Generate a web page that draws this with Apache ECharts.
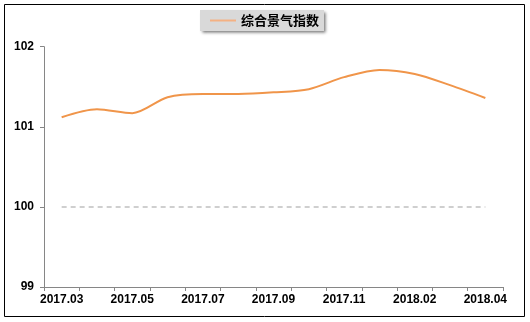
<!DOCTYPE html>
<html><head><meta charset="utf-8">
<script src="https://cdn.jsdelivr.net/npm/echarts@6/dist/echarts.min.js"></script>
<style>html,body{margin:0;padding:0;background:#fff}#c{width:530px;height:322px}</style>
</head><body><div id="c"></div>
<script>
const categories = ['2017.03','2017.04','2017.05','2017.06','2017.07','2017.08','2017.09','2017.10','2017.11','2017.12','2018.02','2018.03','2018.04'];
const indexValues = [101.12,101.22,101.17,101.37,101.41,101.41,101.43,101.47,101.62,101.71,101.66,101.52,101.36];
const baseline = [100,100,100,100,100,100,100,100,100,100,100,100,100];
const yTicks = [99,100,101,102];
const seriesName = '综合景气指数';

const chart = echarts.init(document.getElementById('c'));
chart.setOption({
  animation:false,
  backgroundColor:'#fff',
  graphic:[{type:'rect',shape:{x:4.5,y:4.5,width:520,height:312},style:{fill:'none',stroke:'#000',lineWidth:1},silent:true}],
  legend:{
    left:200, top:10,
    data:[{name:seriesName, lineStyle:{color:'#f4b183'}}],
    backgroundColor:'#d9d9d9',
    shadowColor:'rgba(0,0,0,0.55)', shadowBlur:3, shadowOffsetX:2, shadowOffsetY:2,
    padding:[4,5,4,10],
    itemWidth:26, itemHeight:12, itemGap:4,
    icon:'path://M0,5L26,5L26,7L0,7Z',
    itemStyle:{color:'#f4b183'},
    textStyle:{fontFamily:'Noto Sans CJK SC',fontWeight:'bold',fontSize:13,color:'#000'}
  },
  grid:{left:44,right:27,top:46.7,bottom:35},
  xAxis:{
    type:'category', data:categories, boundaryGap:true,
    axisLine:{lineStyle:{color:'#868686'}},
    axisTick:{show:true,length:4,lineStyle:{color:'#868686'},interval:0},
    axisLabel:{interval:1,color:'#000',fontFamily:'Arial',fontWeight:'bold',fontSize:12,margin:7},
    splitLine:{show:false}
  },
  yAxis:{
    type:'value', min:yTicks[0], max:yTicks[yTicks.length-1], interval:1,
    axisLine:{show:true,lineStyle:{color:'#868686'}},
    axisTick:{show:true,length:4,lineStyle:{color:'#868686'}},
    axisLabel:{color:'#000',fontFamily:'Arial',fontWeight:'bold',fontSize:12,margin:10},
    splitLine:{show:false}
  },
  series:[
    {name:seriesName,type:'line',data:indexValues,smooth:0.3,showSymbol:false,
     lineStyle:{color:'#f0954a',width:2},itemStyle:{color:'#f0954a'}},
    {name:'base',type:'line',data:baseline,showSymbol:false,silent:true,
     lineStyle:{color:'#c0c0c0',width:1.5,type:[5,4]},itemStyle:{color:'#c0c0c0'}}
  ]
});
</script></body></html>
